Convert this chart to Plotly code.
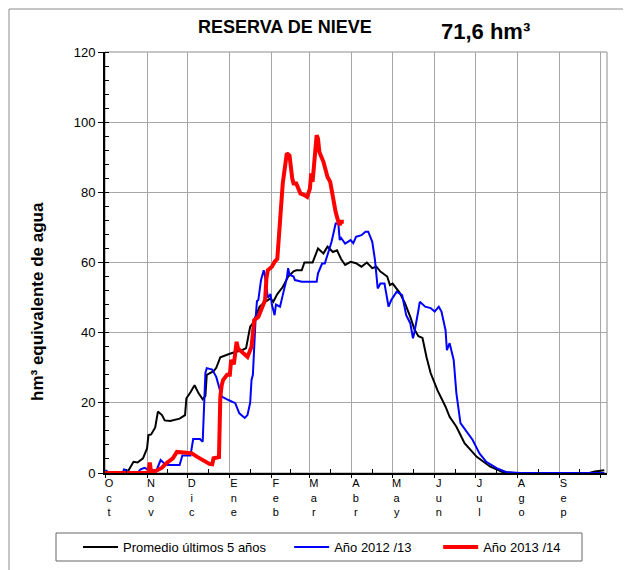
import plotly.graph_objects as go

# ---------------- data (x = days since 1 October) ----------------
month_days = [0, 31, 61, 92, 123, 151, 182, 212, 243, 273, 304, 335]
month_labels = ["O<br>c<br>t", "N<br>o<br>v", "D<br>i<br>c", "E<br>n<br>e", "F<br>e<br>b",
                "M<br>a<br>r", "A<br>b<br>r", "M<br>a<br>y", "J<br>u<br>n", "J<br>u<br>l",
                "A<br>g<br>o", "S<br>e<br>p"]

black_days = [0,7,15,17,21,24,28,31,32,34,37,39,42,44,48,52,55,59,60,63,66,69,72,74,75,80,82,85,88,92,
              96,101,104,107,109,114,118,122,124,127,131,135,139,141,145,147,153,157,161,164,168,171,174,
              177,181,185,189,193,197,200,203,208,210,212,217,221,225,228,231,234,237,240,245,251,254,259,
              265,274,284,293,302,335,357,361,368]
black_vals = [0,0,0.3,0.5,3.2,3,4.2,7,10.8,11,13,17.5,16.5,15,14.8,15.3,15.5,16.5,21.3,23,25,22.7,21,22,28,
              29,30,33,33.5,34,34.5,35,35.6,41.7,42.7,47.4,48.8,49.8,48.8,51,53,56,57.5,57.8,57.8,60,60,64,
              62.6,64.5,63,63.5,61,59.3,60.2,59.8,58.8,60,58.4,58.8,57.4,56,53.6,54,51.5,48.5,44.5,41,39,38.5,
              33,28.5,23.6,18.9,16,13.2,8.5,4.6,1.8,0.3,0,0,0,0.4,0.8]

blue_days = [0,1,2,13,14,16,18,24,26,29,33,38,41,44,46,55,57,63,65,70,72,74,75,79,82,86,91,96,99,103,
             105,107,108,109,111,112,113,115,117,118,120,122,123,125,126,129,131,134,135,136,139,140,145,
             156,157,160,162,165,167,170,172,173,174,177,181,183,185,189,192,194,197,199,201,203,206,209,
             211,215,219,222,225,227,228,231,232,236,240,243,246,248,251,252,254,257,259,262,265,271,276,
             281,289,296,306,368]
blue_vals = [0,0.8,0,0,1,0.8,0,0,1,1.5,0.8,0.8,3.7,2.6,2.3,2.3,5,5,9.7,9.7,8.9,28.5,29.9,29.5,27.4,21.8,
             20.8,19.9,17,15.7,16.5,20,26.5,28,44,49,49.3,55,57.8,56,50,51,48,45,48,47.4,50.7,55.5,58.4,
             56.5,56,55,54.5,54.5,56.9,59.7,59.7,63.5,65.9,71.1,71.1,66.4,67,65.4,66.4,65.5,67.3,67.8,68.8,
             68.8,65.9,60.7,52.6,54,54,47.4,49.3,51.7,50.7,45,42.7,38.4,40,46.4,48.8,47.4,47,46,47.4,46,
             40.7,35,37,32.2,22.7,14.2,12.7,9.4,5.6,3.2,1.3,0.2,0,0]

red_days = [0,31,32,33,34,37,42,45,50,52,53,60,64,68,74,77,79,80,84,85,86,87,90,92,93,95,97,98,102,105,
            108,110,113,115,117,118,119,120,123,125,127,129,131,134,136,138,139,141,144,147,149,151,152,
            153,155,156,157,158,161,164,166,168,170,172,173,174,176]
red_vals = [0,0,0.3,3,0.3,0.5,1.5,2.7,4.2,5.8,6,5.8,5.6,4.6,3.2,2.6,2.5,4.2,4.5,21.8,25,26.5,28,28,32.2,
            31,37.4,35.5,34.1,33.1,36,43.6,44.5,46.4,48.3,49.3,55.5,57.8,58.8,60.2,61,73,82.5,91.1,90.5,
            84,82.5,82.5,79.7,79.2,78.7,81,85.4,83,91,96.3,95.3,91.5,88.7,84.4,83,77.8,74.4,71.6,70.7,
            71.6,71.6]

series_names = ["Promedio últimos 5 años", "Año 2012 /13", "Año 2013 /14"]
current_value_text = "71,6 hm³"

# ---------------- layout geometry ----------------
W, H = 631, 570
OFF = 8                               # page body margin of the html page
PL, PR, PT, PB = 105, 607, 52, 473   # plot area in pixels of the reference


def px(x):
    return (x - PL) / (PR - PL)


def py(y):
    return (PB - y) / (PB - PT)


fig = go.Figure()
fig.add_trace(go.Scatter(x=black_days, y=black_vals, mode="lines",
                         name=series_names[0] + "\u00a0" * 5,
                         line=dict(color="#000000", width=2)))
fig.add_trace(go.Scatter(x=blue_days, y=blue_vals, mode="lines",
                         name=series_names[1] + "\u00a0" * 6,
                         line=dict(color="#0000ff", width=2)))
fig.add_trace(go.Scatter(x=red_days, y=red_vals, mode="lines", name=series_names[2],
                         line=dict(color="#ff0000", width=4)))

grid_vals = month_days + [365]
mid_vals = [(a + b) / 2 for a, b in zip(grid_vals[:-1], grid_vals[1:])]

fig.update_layout(
    width=W, height=H,
    margin=dict(l=PL - OFF, r=W - (PR - OFF), t=PT - OFF, b=H - (PB - OFF), autoexpand=False),
    paper_bgcolor="white", plot_bgcolor="white",
    font=dict(family="Arial, Liberation Sans, sans-serif", color="#000000"),
    showlegend=True,
    legend=dict(orientation="h", x=px(78), xanchor="left", y=py(547), yanchor="middle",
                font=dict(size=13, family="Arial, Liberation Sans, sans-serif"),
                bgcolor="rgba(0,0,0,0)", borderwidth=0, itemwidth=35),
    xaxis=dict(range=[0, 370], tickmode="array", tickvals=grid_vals,
               ticktext=month_labels + [""], tickfont=dict(size=11),
               ticks="outside", ticklen=3, tickcolor="#000", tickwidth=1,
               showgrid=True, gridcolor="#a6a6a6", gridwidth=1,
               showline=True, linecolor="#000", linewidth=2, zeroline=False,
               ticklabelshift=4, ticklabelstandoff=-4,
               minor=dict(tickmode="array", tickvals=mid_vals, ticks="inside", ticklen=4,
                          tickcolor="#000", showgrid=False)),
    yaxis=dict(range=[0, 120], tickmode="linear", tick0=0, dtick=20, tickfont=dict(size=13),
               ticks="outside", ticklen=5, tickcolor="#000", tickwidth=1,
               showgrid=True, gridcolor="#a6a6a6", gridwidth=1,
               showline=True, linecolor="#000", linewidth=2, zeroline=False,
               minor=dict(dtick=4, ticks="inside", ticklen=4, tickcolor="#000", showgrid=False)),
    shapes=[
        # plot box (top / right in grey)
        dict(type="rect", xref="paper", yref="paper", x0=0, x1=1, y0=0, y1=1,
             line=dict(color="#8c8c8c", width=1), layer="below"),
        # legend frame
        dict(type="rect", xref="paper", yref="paper", x0=px(56), x1=px(582), y0=py(533), y1=py(561),
             line=dict(color="#666666", width=1)),
        # outer chart frame
        dict(type="rect", xref="paper", yref="paper", x0=px(OFF + 1), x1=px(660), y0=py(600), y1=py(OFF + 1),
             line=dict(color="#8c8c8c", width=1)),
    ],
    annotations=[
        dict(text="<b>RESERVA DE NIEVE</b>", xref="paper", yref="paper", x=px(285), y=py(27),
             xanchor="center", yanchor="middle", showarrow=False, font=dict(size=18)),
        dict(text="<b>" + current_value_text + "</b>", xref="paper", yref="paper", x=px(485), y=py(31),
             xanchor="center", yanchor="middle", showarrow=False, font=dict(size=22)),
        dict(text="<b>hm³ equivalente de agua</b>", xref="paper", yref="paper", x=px(37), y=py(302),
             xanchor="center", yanchor="middle", showarrow=False, textangle=-90, font=dict(size=17)),
    ],
)

fig.write_html("out.html")
